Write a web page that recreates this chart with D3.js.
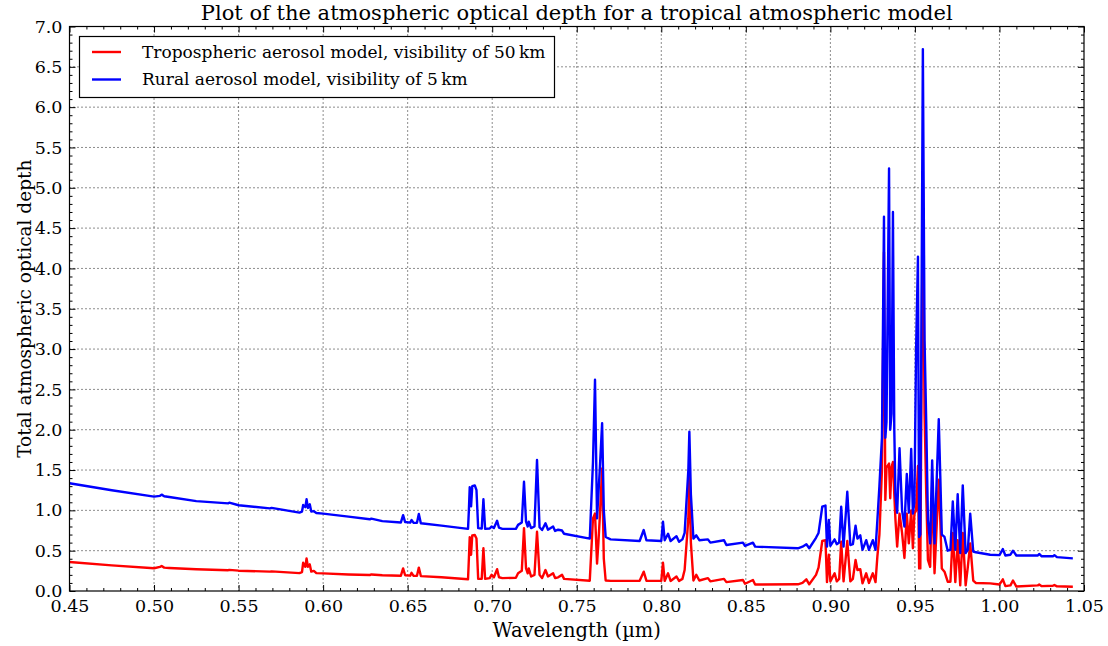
<!DOCTYPE html>
<html>
<head>
<meta charset="utf-8">
<script src="https://cdn.jsdelivr.net/npm/d3@7"></script>
<style>
  body { margin: 0; background: #fff; }
  text { font-family: "DejaVu Serif", "Liberation Serif", serif; fill: #000; }
</style>
</head>
<body>
<svg id="chart" width="1108" height="646"></svg>
<script>
// Wavelength grid (µm) shared by both aerosol models
const wavelength = [
  0.450, 0.475, 0.500, 0.5035, 0.5045, 0.5060, 0.5090, 0.525, 0.5439, 0.5445,
  0.550, 0.5685, 0.5695, 0.586, 0.5875, 0.5882, 0.5895, 0.5902, 0.5910, 0.5921,
  0.5930, 0.5945, 0.5960, 0.600, 0.615, 0.6276, 0.6285, 0.635, 0.6460, 0.6473,
  0.6485, 0.6515, 0.6523, 0.6535, 0.6555, 0.6566, 0.6578, 0.670, 0.6857, 0.6862,
  0.6867, 0.6875, 0.6882, 0.6897, 0.6907, 0.6917, 0.6938, 0.6948, 0.6958, 0.6985,
  0.6996, 0.7010, 0.7029, 0.7040, 0.7060, 0.7140, 0.7153, 0.7175, 0.7188, 0.7200,
  0.7210, 0.7216, 0.7230, 0.7250, 0.7265, 0.7280, 0.7295, 0.7315, 0.7330, 0.7360,
  0.7372, 0.7390, 0.7413, 0.7425, 0.7577, 0.7596, 0.7608, 0.7620, 0.7628, 0.7636,
  0.7650, 0.7660, 0.7671, 0.7700, 0.7872, 0.7896, 0.7912, 0.8000, 0.8010, 0.8020,
  0.8040, 0.8055, 0.8090, 0.8105, 0.8125, 0.8138, 0.8160, 0.8166, 0.8175, 0.8190,
  0.8207, 0.8225, 0.8276, 0.8290, 0.8371, 0.8385, 0.8483, 0.8495, 0.8542, 0.8555,
  0.8808, 0.8835, 0.8858, 0.8875, 0.8915, 0.8930, 0.8952, 0.8971, 0.8980, 0.8991,
  0.9000, 0.9025, 0.9038, 0.9052, 0.9064, 0.9078, 0.9100, 0.9118, 0.9133, 0.9149,
  0.9160, 0.9177, 0.9190, 0.9212, 0.9228, 0.9251, 0.9267, 0.9278, 0.9290, 0.9305,
  0.9317, 0.9325, 0.9332, 0.9347, 0.9354, 0.9362, 0.9370, 0.9378, 0.9385, 0.9395,
  0.9409, 0.9424, 0.9438, 0.9452, 0.9464, 0.9478, 0.9488, 0.9497, 0.9507, 0.9518,
  0.9525, 0.9532, 0.9547, 0.9557, 0.9567, 0.9577, 0.9590, 0.9602, 0.9616, 0.9641,
  0.9650, 0.9659, 0.9675, 0.9694, 0.9710, 0.9724, 0.9739, 0.9753, 0.9768, 0.9783,
  0.9800, 0.9813, 0.9827, 0.9845, 0.9860, 0.9945, 1.0000, 1.0020, 1.0035, 1.0065,
  1.0080, 1.0100, 1.0227, 1.0235, 1.0250, 1.0316, 1.0325, 1.0340, 1.0434
];

// Tropospheric aerosol model, 50 km visibility
const tropospheric50km = [
  0.360, 0.318, 0.282, 0.300, 0.310, 0.290, 0.286, 0.270, 0.258, 0.262,
  0.252, 0.240, 0.243, 0.222, 0.235, 0.350, 0.300, 0.405, 0.300, 0.330,
  0.240, 0.250, 0.222, 0.218, 0.205, 0.198, 0.205, 0.196, 0.190, 0.280,
  0.195, 0.190, 0.225, 0.188, 0.190, 0.290, 0.185, 0.170, 0.145, 0.400,
  0.666, 0.450, 0.690, 0.694, 0.650, 0.150, 0.150, 0.530, 0.150, 0.160,
  0.200, 0.170, 0.270, 0.170, 0.160, 0.165, 0.220, 0.250, 0.780, 0.280,
  0.220, 0.280, 0.180, 0.200, 0.735, 0.200, 0.160, 0.260, 0.180, 0.220,
  0.160, 0.170, 0.200, 0.150, 0.128, 0.900, 0.960, 0.340, 0.600, 0.900,
  1.520, 0.400, 0.130, 0.125, 0.128, 0.240, 0.128, 0.125, 0.350, 0.125,
  0.220, 0.125, 0.180, 0.125, 0.150, 0.260, 0.900, 1.460, 0.600, 0.130,
  0.200, 0.130, 0.160, 0.120, 0.150, 0.110, 0.136, 0.090, 0.136, 0.080,
  0.083, 0.100, 0.145, 0.083, 0.200, 0.290, 0.620, 0.630, 0.110, 0.450,
  0.120, 0.220, 0.120, 0.150, 0.610, 0.120, 0.620, 0.120, 0.150, 0.385,
  0.260, 0.270, 0.095, 0.220, 0.100, 0.220, 0.110, 0.430, 0.700, 1.500,
  4.200, 1.130, 1.530, 1.580, 1.150, 1.540, 1.600, 1.200, 0.880, 0.550,
  0.960, 0.720, 0.410, 0.960, 0.590, 1.000, 0.530, 0.960, 1.000, 1.550,
  0.280, 0.280, 5.060, 2.200, 1.200, 0.385, 0.300, 1.290, 0.220, 1.380,
  0.880, 0.280, 0.240, 0.115, 0.115, 0.720, 0.110, 0.630, 0.070, 0.720,
  0.070, 0.300, 0.590, 0.130, 0.100, 0.095, 0.080, 0.145, 0.060, 0.070,
  0.130, 0.055, 0.070, 0.080, 0.060, 0.065, 0.075, 0.058, 0.053
];

// Rural aerosol model, 5 km visibility
const rural5km = [
  1.336, 1.250, 1.170, 1.180, 1.195, 1.175, 1.165, 1.115, 1.087, 1.095,
  1.063, 1.025, 1.030, 0.972, 0.985, 1.066, 1.040, 1.137, 1.030, 1.075,
  0.985, 0.990, 0.968, 0.960, 0.922, 0.889, 0.898, 0.866, 0.850, 0.940,
  0.855, 0.848, 0.880, 0.845, 0.845, 0.955, 0.840, 0.810, 0.770, 1.000,
  1.286, 1.050, 1.300, 1.310, 1.250, 0.780, 0.775, 1.137, 0.770, 0.775,
  0.800, 0.780, 0.870, 0.785, 0.770, 0.770, 0.820, 0.850, 1.355, 0.860,
  0.800, 0.860, 0.780, 0.800, 1.625, 0.790, 0.756, 0.840, 0.760, 0.800,
  0.745, 0.760, 0.750, 0.710, 0.650, 1.600, 2.620, 0.900, 1.200, 1.500,
  2.080, 1.000, 0.670, 0.640, 0.620, 0.756, 0.630, 0.620, 0.860, 0.630,
  0.710, 0.620, 0.680, 0.610, 0.640, 0.720, 1.500, 1.975, 1.200, 0.650,
  0.690, 0.630, 0.640, 0.600, 0.630, 0.570, 0.600, 0.560, 0.600, 0.550,
  0.530, 0.550, 0.580, 0.530, 0.660, 0.720, 1.045, 1.060, 0.550, 0.880,
  0.560, 0.640, 0.580, 0.600, 1.045, 0.550, 1.230, 0.570, 0.580, 0.810,
  0.650, 0.690, 0.510, 0.630, 0.510, 0.630, 0.510, 0.880, 1.300, 1.900,
  4.640, 1.900, 2.100, 5.240, 2.000, 2.200, 4.700, 2.000, 1.190, 0.970,
  1.770, 1.000, 0.800, 1.450, 0.970, 1.760, 0.960, 1.100, 3.000, 4.145,
  0.670, 0.700, 6.720, 3.110, 2.080, 0.880, 0.590, 1.620, 0.590, 2.130,
  1.430, 0.700, 0.670, 0.500, 0.510, 1.110, 0.510, 1.200, 0.470, 1.310,
  0.470, 0.510, 0.960, 0.490, 0.480, 0.450, 0.445, 0.520, 0.440, 0.450,
  0.500, 0.440, 0.440, 0.460, 0.430, 0.430, 0.445, 0.420, 0.405
];

const xMajorTicks = [0.45, 0.50, 0.55, 0.60, 0.65, 0.70, 0.75, 0.80, 0.85, 0.90, 0.95, 1.00, 1.05];
const yMajorTicks = [0.0, 0.5, 1.0, 1.5, 2.0, 2.5, 3.0, 3.5, 4.0, 4.5, 5.0, 5.5, 6.0, 6.5, 7.0];

const seriesNames = [
  "Tropospheric aerosol model, visibility of 50\u2009km",
  "Rural aerosol model, visibility of 5\u2009km"
];
const seriesColors = ["#ff0000", "#0000ff"];

(function draw() {
  const svg = d3.select("#chart");
  const pLeft = 69.5, pRight = 1084, pTop = 26.5, pBottom = 591;

  const x = d3.scaleLinear().domain([0.45, 1.05]).range([pLeft, pRight]);
  const y = d3.scaleLinear().domain([0, 7]).range([pBottom, pTop]);

  // Minor tick positions
  const xMinor = d3.range(45, 106).map(d => d / 100)
    .filter(v => !xMajorTicks.some(m => Math.abs(m - v) < 1e-9));
  const yMinor = d3.range(0, 71).map(d => d / 10)
    .filter(v => !yMajorTicks.some(m => Math.abs(m - v) < 1e-9));

  // Dotted grid at major ticks
  const grid = svg.append("g").attr("stroke", "#000").attr("stroke-width", 0.9)
    .attr("stroke-dasharray", "1,3");
  grid.selectAll("line.gx").data(xMajorTicks.slice(1, -1)).join("line").attr("class", "gx")
    .attr("x1", d => x(d)).attr("x2", d => x(d)).attr("y1", pTop).attr("y2", pBottom);
  grid.selectAll("line.gy").data(yMajorTicks.slice(1, -1)).join("line").attr("class", "gy")
    .attr("x1", pLeft).attr("x2", pRight).attr("y1", d => y(d)).attr("y2", d => y(d));

  // Spectra
  svg.append("clipPath").attr("id", "plotClip").append("rect")
    .attr("x", pLeft).attr("y", pTop).attr("width", pRight - pLeft).attr("height", pBottom - pTop);

  const line = values => d3.line()
    .x((d, i) => x(wavelength[i]))
    .y(d => y(d))(values);

  const plot = svg.append("g").attr("clip-path", "url(#plotClip)");
  [tropospheric50km, rural5km].forEach((vals, k) => {
    plot.append("path")
      .attr("d", line(vals))
      .attr("fill", "none")
      .attr("stroke", seriesColors[k])
      .attr("stroke-width", 2.4)
      .attr("stroke-linejoin", "round");
  });

  // Axes: ticks point inward on all four sides
  function styleAxis(g) {
    g.select(".domain").remove();
    g.selectAll(".tick line").attr("stroke", "#000").attr("stroke-width", 1);
    g.selectAll(".tick text").attr("font-size", 17.5).attr("font-family", "DejaVu Serif");
  }

  svg.append("g").attr("transform", `translate(0,${pBottom})`)
    .call(d3.axisBottom(x).tickValues(xMajorTicks).tickFormat(d3.format(".2f")).tickSize(-6).tickPadding(9))
    .call(styleAxis);
  svg.append("g").attr("transform", `translate(0,${pBottom})`)
    .call(d3.axisBottom(x).tickValues(xMinor).tickFormat("").tickSize(-3)).call(styleAxis);
  svg.append("g").attr("transform", `translate(0,${pTop})`)
    .call(d3.axisTop(x).tickValues(xMajorTicks).tickFormat("").tickSize(-6)).call(styleAxis);
  svg.append("g").attr("transform", `translate(0,${pTop})`)
    .call(d3.axisTop(x).tickValues(xMinor).tickFormat("").tickSize(-3)).call(styleAxis);

  svg.append("g").attr("transform", `translate(${pLeft},0)`)
    .call(d3.axisLeft(y).tickValues(yMajorTicks).tickFormat(d3.format(".1f")).tickSize(-6).tickPadding(7))
    .call(styleAxis);
  svg.append("g").attr("transform", `translate(${pLeft},0)`)
    .call(d3.axisLeft(y).tickValues(yMinor).tickFormat("").tickSize(-3)).call(styleAxis);
  svg.append("g").attr("transform", `translate(${pRight},0)`)
    .call(d3.axisRight(y).tickValues(yMajorTicks).tickFormat("").tickSize(-6)).call(styleAxis);
  svg.append("g").attr("transform", `translate(${pRight},0)`)
    .call(d3.axisRight(y).tickValues(yMinor).tickFormat("").tickSize(-3)).call(styleAxis);

  // Frame
  svg.append("rect").attr("x", pLeft).attr("y", pTop)
    .attr("width", pRight - pLeft).attr("height", pBottom - pTop)
    .attr("fill", "none").attr("stroke", "#000").attr("stroke-width", 1.2);

  // Titles
  svg.append("text").attr("x", (pLeft + pRight) / 2).attr("y", 20)
    .attr("text-anchor", "middle").attr("font-size", 21)
    .text("Plot of the atmospheric optical depth for a tropical atmospheric model");
  svg.append("text").attr("x", (pLeft + pRight) / 2).attr("y", 637)
    .attr("text-anchor", "middle").attr("font-size", 19.5)
    .text("Wavelength (\u00b5m)");
  svg.append("text").attr("transform", `translate(31,${(pTop + pBottom) / 2}) rotate(-90)`)
    .attr("text-anchor", "middle").attr("font-size", 18.5)
    .text("Total atmospheric optical depth");

  // Legend
  const legend = svg.append("g");
  legend.append("rect").attr("x", 79.5).attr("y", 36.5).attr("width", 475).attr("height", 61)
    .attr("fill", "#fff").attr("stroke", "#000").attr("stroke-width", 1.2);
  seriesNames.forEach((name, k) => {
    const ly = 52 + k * 27.5;
    legend.append("line").attr("x1", 92).attr("x2", 121).attr("y1", ly).attr("y2", ly)
      .attr("stroke", seriesColors[k]).attr("stroke-width", 2.4);
    legend.append("text").attr("x", 142).attr("y", ly + 5.5).attr("font-size", 17).text(name);
  });
})();
</script>
</body>
</html>
